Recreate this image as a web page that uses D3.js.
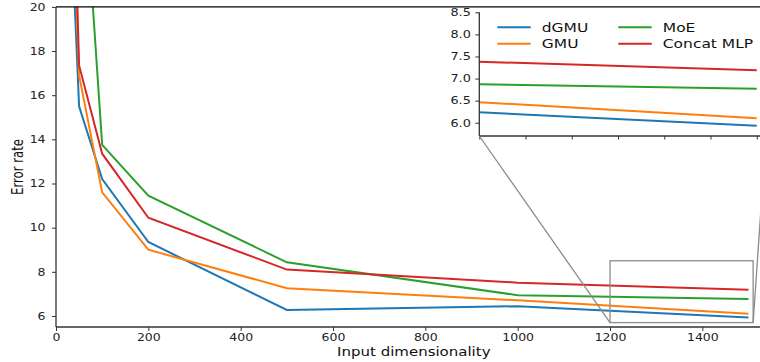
<!DOCTYPE html>
<html>
<head>
<meta charset="utf-8">
<script src="https://cdn.jsdelivr.net/npm/d3@7"></script>
<style>html,body{margin:0;padding:0;background:#fff}</style>
</head>
<body>
<svg id="chart" width="760" height="362"></svg>
<script>
// Error rate vs input dimensionality for four fusion models
const dims      = [10, 50, 100, 200, 500, 1000, 1500];
const dGMU      = [35.0, 15.5, 12.2, 9.35, 6.27, 6.44, 5.93];
const GMU       = [40.0, 16.9, 11.6, 9.0, 7.26, 6.71, 6.10];
const MoE       = [45.0, 29.3, 13.75, 11.45, 8.43, 6.94, 6.77];
const concatMLP = [47.0, 17.35, 13.35, 10.45, 8.10, 7.51, 7.19];

const seriesNames  = ["dGMU", "GMU", "MoE", "Concat MLP"];
const seriesValues = [dGMU, GMU, MoE, concatMLP];
const seriesColors = ["#1f77b4", "#ff7f0e", "#2ca02c", "#d62728"];

const xTicks = [0, 200, 400, 600, 800, 1000, 1200, 1400];
const yTicks = [6, 8, 10, 12, 14, 16, 18, 20];

// zoomed region shown in the inset
const zoomX = [1200, 1510];
const zoomY = [5.7, 8.5];
const insetXTicks = [1200, 1250, 1300, 1350, 1400, 1450, 1500];
const insetYTicks = [6.0, 6.5, 7.0, 7.5, 8.0, 8.5];

const FONT = "DejaVu Sans";
const SY = 0.8;          // text is drawn slightly compressed vertically
const SPINE = "#333";

const svg = d3.select("#chart");
svg.append("rect").attr("width", 760).attr("height", 362).attr("fill", "#fff");

// ---------- main axes ----------
const x = d3.scaleLinear().domain([0, 1550]).range([56, 771.6]);
const y = d3.scaleLinear().domain([5.5, 20]).range([327, 6.9]);

const defs = svg.append("defs");
defs.append("clipPath").attr("id", "mainClip").append("rect")
  .attr("x", x.range()[0]).attr("y", y.range()[1])
  .attr("width", x.range()[1] - x.range()[0]).attr("height", y.range()[0] - y.range()[1]);

const line = (sx, sy) => d3.line().x(d => sx(d[0])).y(d => sy(d[1]));

const mainLines = svg.append("g").attr("clip-path", "url(#mainClip)");
seriesValues.forEach((vals, i) => {
  mainLines.append("path")
    .datum(dims.map((d, k) => [d, vals[k]]))
    .attr("d", line(x, y))
    .attr("fill", "none")
    .attr("stroke", seriesColors[i])
    .attr("stroke-width", 2)
    .attr("stroke-linejoin", "miter");
});

function styleAxis(g, size) {
  g.attr("font-family", FONT).attr("font-size", size);
  g.select(".domain").remove();
  g.selectAll(".tick line").attr("stroke", SPINE).attr("stroke-width", 1);
  g.selectAll(".tick text").attr("fill", "#222").attr("transform", `scale(1,${SY})`);
}

const gx = svg.append("g").attr("transform", `translate(0,${y.range()[0]})`)
  .call(d3.axisBottom(x).tickValues(xTicks).tickFormat(d3.format("d")).tickSize(4).tickPadding(5));
styleAxis(gx, 12.5);

const gy = svg.append("g").attr("transform", `translate(${x.range()[0]},0)`)
  .call(d3.axisLeft(y).tickValues(yTicks).tickFormat(d3.format("d")).tickSize(4).tickPadding(6.5));
styleAxis(gy, 12.5);

// spines
svg.append("line").attr("x1", x.range()[0]).attr("x2", x.range()[0])
  .attr("y1", y.range()[1]).attr("y2", y.range()[0]).attr("stroke", SPINE).attr("stroke-width", 1.3);
svg.append("line").attr("x1", x.range()[0]).attr("x2", x.range()[1])
  .attr("y1", y.range()[0]).attr("y2", y.range()[0]).attr("stroke", SPINE).attr("stroke-width", 1.3);
svg.append("line").attr("x1", x.range()[0]).attr("x2", x.range()[1])
  .attr("y1", y.range()[1]).attr("y2", y.range()[1]).attr("stroke", "#000").attr("stroke-width", 1.3);

// axis titles
svg.append("text")
  .attr("transform", `translate(${(x.range()[0] + x.range()[1]) / 2},355.7) scale(1,0.78)`)
  .attr("text-anchor", "middle").attr("font-family", FONT).attr("font-size", 15).attr("fill", "#111")
  .text("Input dimensionality");
svg.append("text")
  .attr("transform", `translate(22.7,${(y.range()[0] + y.range()[1]) / 2}) scale(1,0.78) rotate(-90)`)
  .attr("text-anchor", "middle").attr("font-family", FONT).attr("font-size", 15).attr("fill", "#111")
  .text("Error rate");

// ---------- inset ----------
const ix = d3.scaleLinear().domain(zoomX).range([479.3, 766]);
const iy = d3.scaleLinear().domain(zoomY).range([136, 12.3]);

svg.append("rect")
  .attr("x", ix.range()[0]).attr("y", iy.range()[1])
  .attr("width", ix.range()[1] - ix.range()[0]).attr("height", iy.range()[0] - iy.range()[1])
  .attr("fill", "#fff");

defs.append("clipPath").attr("id", "insetClip").append("rect")
  .attr("x", ix.range()[0]).attr("y", iy.range()[1])
  .attr("width", ix.range()[1] - ix.range()[0]).attr("height", iy.range()[0] - iy.range()[1]);

const insetLines = svg.append("g").attr("clip-path", "url(#insetClip)");
seriesValues.forEach((vals, i) => {
  insetLines.append("path")
    .datum(dims.map((d, k) => [d, vals[k]]))
    .attr("d", line(ix, iy))
    .attr("fill", "none")
    .attr("stroke", seriesColors[i])
    .attr("stroke-width", 2);
});

const igx = svg.append("g").attr("transform", `translate(0,${iy.range()[0]})`)
  .call(d3.axisBottom(ix).tickValues(insetXTicks).tickFormat("").tickSize(3.5));
styleAxis(igx, 12.5);
const igy = svg.append("g").attr("transform", `translate(${ix.range()[0]},0)`)
  .call(d3.axisLeft(iy).tickValues(insetYTicks).tickFormat(d3.format(".1f")).tickSize(4).tickPadding(4.5));
styleAxis(igy, 12.8);

svg.append("line").attr("x1", ix.range()[0]).attr("x2", ix.range()[0])
  .attr("y1", iy.range()[1]).attr("y2", iy.range()[0]).attr("stroke", SPINE).attr("stroke-width", 1.3);
svg.append("line").attr("x1", ix.range()[0]).attr("x2", ix.range()[1])
  .attr("y1", iy.range()[0]).attr("y2", iy.range()[0]).attr("stroke", SPINE).attr("stroke-width", 1.3);

// legend (two columns)
const legend = svg.append("g").attr("font-family", FONT).attr("font-size", 15.5);
seriesNames.forEach((name, i) => {
  const col = Math.floor(i / 2), row = i % 2;
  const lx = 497.3 + col * 121, ly = 27.3 + row * 16.4;
  legend.append("line").attr("x1", lx).attr("x2", lx + 33.4).attr("y1", ly).attr("y2", ly)
    .attr("stroke", seriesColors[i]).attr("stroke-width", 2);
  legend.append("text")
    .attr("transform", `translate(${lx + 44.5},${ly + 4.6}) scale(1,0.78)`)
    .attr("fill", "#111").text(name);
});

// ---------- zoom marker and connectors ----------
const mark = svg.append("g").attr("stroke", "#8c8c8c").attr("stroke-width", 1.3).attr("fill", "none");
mark.append("rect")
  .attr("x", x(zoomX[0])).attr("y", y(zoomY[1]))
  .attr("width", x(zoomX[1]) - x(zoomX[0])).attr("height", y(zoomY[0]) - y(zoomY[1]));
mark.append("line")
  .attr("x1", ix(zoomX[0])).attr("y1", iy(zoomY[0]))
  .attr("x2", x(zoomX[0])).attr("y2", y(zoomY[0]));
mark.append("line")
  .attr("x1", ix(zoomX[1])).attr("y1", iy(zoomY[0]))
  .attr("x2", x(zoomX[1])).attr("y2", y(zoomY[0]));
</script>
</body>
</html>
